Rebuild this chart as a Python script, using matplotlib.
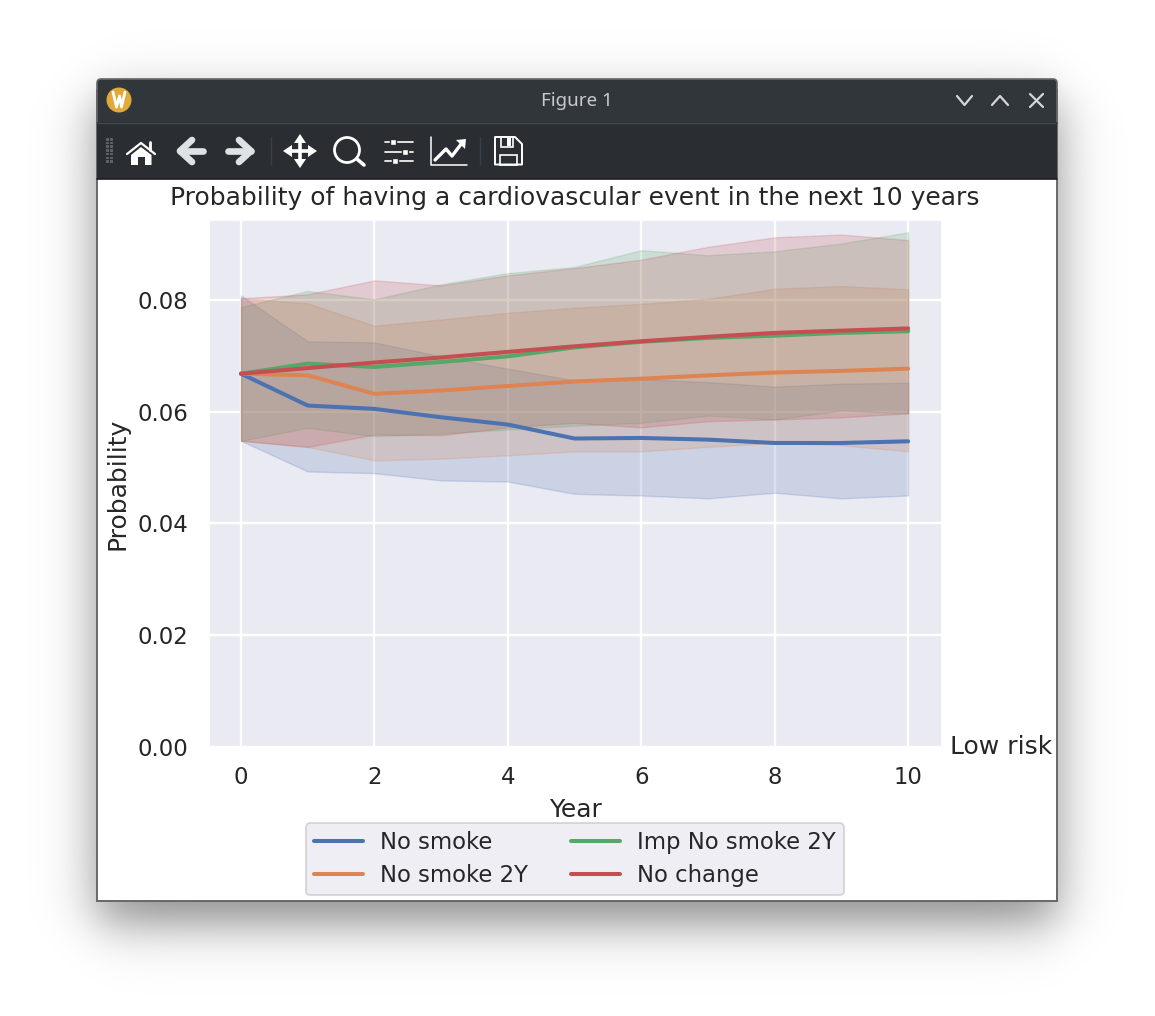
import numpy as np
import seaborn as sns
import matplotlib
matplotlib.use("Agg")
import matplotlib.pyplot as plt
from matplotlib.patches import Rectangle, FancyBboxPatch, Circle, Polygon

years = list(range(11))

no_smoke = [.0668, .0611, .0605, .0590, .0577, .0552, .0553, .0550, .0544, .0544, .0547]
no_smoke_lo = [.0548, .0493, .0490, .0477, .0475, .0453, .0450, .0445, .0455, .0445, .0450]
no_smoke_hi = [.0808, .0726, .0724, .0699, .0677, .0656, .0658, .0653, .0645, .0650, .0652]

no_smoke_2y = [.0668, .0665, .0632, .0638, .0646, .0654, .0659, .0665, .0670, .0673, .0677]
no_smoke_2y_lo = [.0548, .0537, .0513, .0516, .0522, .0529, .0529, .0537, .0544, .0540, .0529]
no_smoke_2y_hi = [.0803, .0794, .0754, .0765, .0777, .0786, .0793, .0802, .0820, .0825, .0819]

imp_2y = [.0668, .0686, .0680, .0689, .0699, .0715, .0725, .0732, .0736, .0741, .0744]
imp_2y_lo = [.0548, .0571, .0556, .0561, .0568, .0575, .0580, .0593, .0586, .0602, .0597]
imp_2y_hi = [.0787, .0816, .0801, .0828, .0848, .0859, .0889, .0880, .0887, .0901, .0921]

no_change = [.0668, .0678, .0688, .0697, .0707, .0717, .0726, .0734, .0741, .0745, .0749]
no_change_lo = [.0548, .0537, .0559, .0558, .0572, .0580, .0572, .0583, .0586, .0590, .0597]
no_change_hi = [.0803, .0810, .0835, .0826, .0844, .0857, .0872, .0895, .0912, .0917, .0907]

sns.set_theme(style="darkgrid")
plt.rcParams['font.family'] = ['DejaVu Sans']

W, H = 1155, 1016
fig = plt.figure(figsize=(W / 100, H / 100), dpi=100, facecolor='white')

# window chrome, in pixel coordinates
bg = fig.add_axes([0, 0, 1, 1], zorder=0)
bg.axis('off')

# soft drop shadow round the window
xx, yy = np.meshgrid(np.arange(W) + .5, np.arange(H) + .5)
def edge(v, a, b, s):
    return .5 * (np.tanh((v - a) / s) - np.tanh((v - b) / s))
rgba = np.zeros((H, W, 4))
rgba[..., 3] = edge(xx, 97, 1057, 30) * edge(yy, 101, 923, 30) * 0.46
bg.imshow(rgba, extent=(0, W, H, 0), aspect='auto', zorder=0)
bg.set_xlim(0, W)
bg.set_ylim(H, 0)

bg.add_patch(Rectangle((97, 90), 960, 811, fc='white', ec='#66696c', lw=1.4, zorder=1))
bg.add_patch(FancyBboxPatch((97, 79), 960, 60, boxstyle="round,pad=0,rounding_size=4",
                            fc='#31363b', ec='#66696c', lw=1.2, zorder=2))
bg.add_patch(Rectangle((97, 122), 960, 57, fc='#2a2e32', ec='none', zorder=2))
bg.plot([97, 1057], [122.5, 122.5], color='#43484d', lw=1, zorder=3)
bg.plot([97, 1057], [179, 179], color='#1b1e20', lw=1.2, zorder=3)

# title bar
bg.add_patch(Circle((119, 100), 12.5, fc='#e0a93a', ec='none', zorder=3))
bg.plot([113, 116.5, 119.5, 121.5, 125], [92, 107, 96, 107, 92], color='white', lw=2, zorder=4)
bg.text(577, 100.5, 'Figure 1', color='#c8cbce', fontsize=13.5, family='Noto Sans',
        ha='center', va='center', zorder=3)
ctl = dict(color='#d5d8da', lw=1.6, zorder=3, solid_capstyle='round')
bg.plot([957, 964.5, 972], [96, 105, 96], **ctl)
bg.plot([992, 1000, 1008], [105, 96, 105], **ctl)
bg.plot([1030, 1043], [94, 107], **ctl)
bg.plot([1030, 1043], [107, 94], **ctl)

# toolbar icons
ic = '#ffffff'
grey = '#dfe2e5'
for gx in (105.5, 109.5):
    for gy in np.arange(138, 163, 3.7):
        bg.add_patch(Rectangle((gx, gy), 3, 2.6, fc='#5c6166', ec='none', zorder=3))
bg.add_patch(Polygon([[131, 165], [131, 155], [141, 147], [151.5, 155], [151.5, 165], [145, 165],
                      [145, 157], [138, 157], [138, 165]], fc=ic, ec='none', zorder=3))
bg.plot([127, 141, 155], [154, 143, 154], color=ic, lw=1.6, zorder=3)
bg.plot([150, 150], [142, 150], color=ic, lw=2, zorder=3)
arrow = dict(color=grey, lw=4.8, zorder=3, solid_capstyle='round', solid_joinstyle='round')
bg.plot([203, 180], [151, 151], **arrow)
bg.plot([192, 180, 192], [140, 151, 162], **arrow)
bg.plot([228, 251], [151, 151], **arrow)
bg.plot([239, 251, 239], [140, 151, 162], **arrow)
bg.plot([270.5, 270.5], [137, 165], color='#3a3f44', lw=1, zorder=3)
bg.plot([288, 312], [151, 151], color=ic, lw=2.6, zorder=3)
bg.plot([300, 300], [139, 163], color=ic, lw=2.6, zorder=3)
for p in ([[283, 151], [292, 145], [292, 157]], [[317, 151], [308, 145], [308, 157]],
          [[300, 134], [294, 143], [306, 143]], [[300, 168], [294, 159], [306, 159]]):
    bg.add_patch(Polygon(p, fc=ic, ec='none', zorder=3))
bg.add_patch(Circle((347, 150), 12.5, fc='none', ec=ic, lw=2, zorder=3))
bg.plot([357, 364], [159, 165], color=ic, lw=2.6, zorder=3, solid_capstyle='round')
for y0, b in ((142, 390), (152, 402), (161, 392)):
    bg.plot([385, 413], [y0, y0], color=ic, lw=1.2, zorder=3)
    bg.add_patch(Rectangle((b, y0 - 3), 6, 6, fc=ic, ec='#2a2e32', lw=1, zorder=4))
bg.plot([431, 431, 467], [137, 164.5, 164.5], color=ic, lw=1.1, zorder=3)
bg.plot([435, 446, 452, 462], [160, 149, 156, 143], color=ic, lw=2.4, zorder=3)
bg.add_patch(Polygon([[456, 140], [466, 139], [465, 149]], fc=ic, ec='none', zorder=3))
bg.plot([479.5, 479.5], [137, 165], color='#3a3f44', lw=1, zorder=3)
bg.add_patch(Polygon([[495, 137], [515, 137], [522, 144], [522, 164.5], [495, 164.5]],
                     fc='none', ec=ic, lw=1.4, zorder=3, joinstyle='round'))
bg.add_patch(Rectangle((501, 137), 12, 10, fc='none', ec=ic, lw=1.2, zorder=3))
bg.add_patch(Rectangle((507, 138), 4, 8, fc=ic, ec='none', zorder=4))
bg.add_patch(Rectangle((500, 154.5), 17, 10, fc='none', ec=ic, lw=1.2, zorder=3))

# the chart itself
left, right, top, bottom = 209, 941.5, 220, 747
ax = fig.add_axes([left / W, 1 - bottom / H, (right - left) / W, (bottom - top) / H], zorder=2)
tick_fs = 16.4
label_fs = 18

series = [("No smoke", no_smoke, no_smoke_lo, no_smoke_hi),
          ("No smoke 2Y", no_smoke_2y, no_smoke_2y_lo, no_smoke_2y_hi),
          ("Imp No smoke 2Y", imp_2y, imp_2y_lo, imp_2y_hi),
          ("No change", no_change, no_change_lo, no_change_hi)]
for name, mean, lo, hi in series:
    line, = ax.plot(years, mean, label=name, lw=2.9)
    ax.fill_between(years, lo, hi, alpha=0.2, color=line.get_color())

ax.set_xlim(-0.48, 10.5)
ax.set_ylim(0, 0.0943)
ax.set_xticks([0, 2, 4, 6, 8, 10])
ax.set_yticks([0, .02, .04, .06, .08])
ax.set_yticklabels(['0.00', '0.02', '0.04', '0.06', '0.08'])
ax.grid(color='white', lw=1.7)
ax.tick_params(labelsize=tick_fs, length=0)
ax.tick_params(axis='y', pad=15)
ax.tick_params(axis='x', pad=14)
ax.set_xlabel("Year", fontsize=label_fs, labelpad=6)
ax.set_ylabel("Probability", fontsize=label_fs, labelpad=6)
ax.set_title("Probability of having a cardiovascular event in the next 10 years", fontsize=label_fs, pad=11)
ax.text(10.62, 0, "Low risk", fontsize=label_fs, ha='left', va='center', color='#262626')
ax.legend(ncol=2, loc='upper center', bbox_to_anchor=(0.4995, -0.1445), fontsize=tick_fs, frameon=True,
          borderaxespad=0, handlelength=2.15, handletextpad=0.75, columnspacing=1.9,
          borderpad=0.35, labelspacing=0.45).get_frame().set_linewidth(1.3)

fig.savefig("out.png", dpi=100)
